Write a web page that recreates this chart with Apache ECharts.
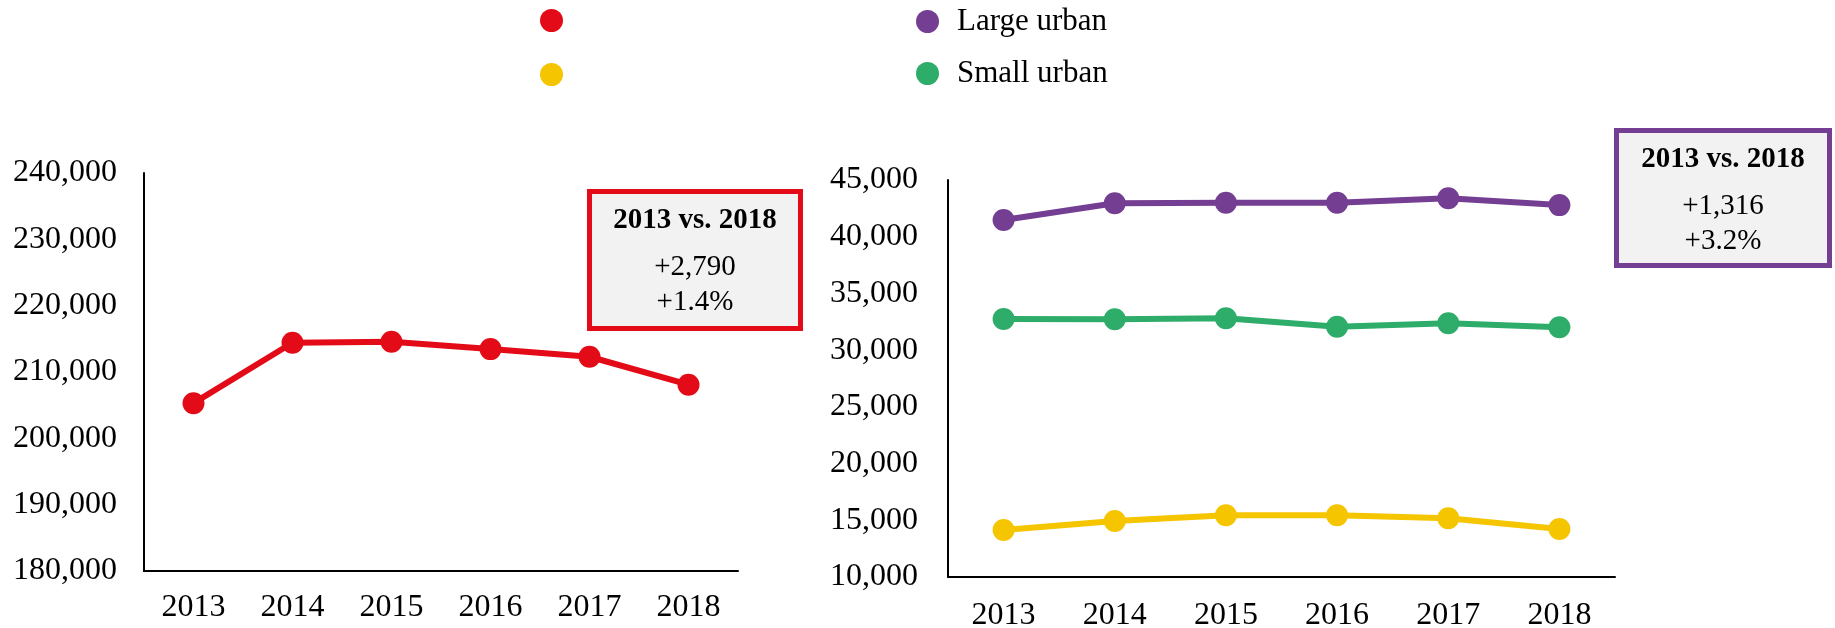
<!DOCTYPE html>
<html>
<head>
<meta charset="utf-8">
<script src="https://cdn.jsdelivr.net/npm/echarts@6.0.0/dist/echarts.min.js"></script>
<style>
html, body { margin: 0; padding: 0; background: #fff; }
#main { width: 1835px; height: 628px; }
</style>
</head>
<body>
<div id="main"></div>
<script>
// data
var years = ['2013', '2014', '2015', '2016', '2017', '2018'];
var totalVals = [205300, 214400, 214550, 213450, 212300, 208090];
var largeUrban = [41470, 42945, 42998, 42995, 43386, 42786];
var smallUrban = [32745, 32720, 32807, 32066, 32366, 32013];
var ruralVals = [14144, 14937, 15440, 15440, 15175, 14232];

var FONT = '"Liberation Serif", "Times New Roman", serif';
var RED = '#e30b17', PURPLE = '#743e92', GREEN = '#2eac69', YELLOW = '#f5c500';

// legend labels (the red and yellow ones show no text in the original)
var legendText = { 'Total': '', 'Rural': '', 'Large urban': 'Large urban', 'Small urban': 'Small urban' };

function diffText(arr) {
    var d = arr[arr.length - 1] - arr[0];
    var p = d / arr[0] * 100;
    return [(d >= 0 ? '+' : '') + d.toLocaleString('en-US'), (p >= 0 ? '+' : '') + p.toFixed(1) + '%'];
}

function mkLegend(name, left, top) {
    return {
        data: [name], left: left, top: top, orient: 'vertical',
        icon: 'circle', itemWidth: 23, itemHeight: 23,
        formatter: function (n) { return legendText[n]; },
        textStyle: { fontFamily: FONT, fontSize: 31, color: '#000', lineHeight: 22, padding: [0, 0, 0, 13] }
    };
}

function mkBox(x, y, w, h, color, arr) {
    var t = diffText(arr);
    var cx = x + w / 2;
    return [
        { type: 'rect', shape: { x: x, y: y, width: w, height: h },
          style: { fill: '#f2f2f2', stroke: color, lineWidth: 5 } },
        { type: 'text', x: cx, y: y + 29,
          style: { text: '2013 vs. 2018', font: 'bold 29px ' + FONT, fill: '#000', align: 'center', verticalAlign: 'middle' } },
        { type: 'text', x: cx, y: y + 76,
          style: { text: t[0], font: '29px ' + FONT, fill: '#000', align: 'center', verticalAlign: 'middle' } },
        { type: 'text', x: cx, y: y + 111,
          style: { text: t[1], font: '29px ' + FONT, fill: '#000', align: 'center', verticalAlign: 'middle' } }
    ];
}

var axisLabelStyle = { fontFamily: FONT, fontSize: 32, color: '#000' };
var axisLineStyle = { show: true, lineStyle: { color: '#000', width: 2 } };

function lineSeries(name, data, color, idx) {
    return {
        name: name, type: 'line', data: data, xAxisIndex: idx, yAxisIndex: idx,
        symbol: 'circle', symbolSize: 22,
        lineStyle: { color: color, width: 6 },
        itemStyle: { color: color },
        emphasis: { disabled: true }
    };
}

var myChart = echarts.init(document.getElementById('main'));
var option = {
    animation: false,
    textStyle: { fontFamily: FONT },
    legend: [
        mkLegend('Total', 535, 4),
        mkLegend('Rural', 535, 58),
        mkLegend('Large urban', 911, 1),
        mkLegend('Small urban', 911, 53)
    ],
    grid: [
        { left: 144, top: 173, width: 594, height: 398, outerBoundsMode: 'none' },
        { left: 948, top: 180, width: 667, height: 397, outerBoundsMode: 'none' }
    ],
    xAxis: [
        { type: 'category', data: years, gridIndex: 0, axisLine: axisLineStyle, axisTick: { show: false },
          axisLabel: Object.assign({ margin: 21 }, axisLabelStyle) },
        { type: 'category', data: years, gridIndex: 1, axisLine: axisLineStyle, axisTick: { show: false },
          axisLabel: Object.assign({ margin: 23 }, axisLabelStyle) }
    ],
    yAxis: [
        { type: 'value', gridIndex: 0, min: 180000, max: 240000, interval: 10000,
          axisLine: axisLineStyle, axisTick: { show: false }, splitLine: { show: false },
          axisLabel: Object.assign({ margin: 27, formatter: function (v) { return v.toLocaleString('en-US'); } }, axisLabelStyle) },
        { type: 'value', gridIndex: 1, min: 10000, max: 45000, interval: 5000,
          axisLine: axisLineStyle, axisTick: { show: false }, splitLine: { show: false },
          axisLabel: Object.assign({ margin: 30, formatter: function (v) { return v.toLocaleString('en-US'); } }, axisLabelStyle) }
    ],
    series: [
        lineSeries('Total', totalVals, RED, 0),
        lineSeries('Large urban', largeUrban, PURPLE, 1),
        lineSeries('Small urban', smallUrban, GREEN, 1),
        lineSeries('Rural', ruralVals, YELLOW, 1)
    ],
    graphic: mkBox(589.5, 191.5, 211, 137, RED, totalVals)
        .concat(mkBox(1616.5, 130.5, 213, 135, PURPLE, largeUrban))
};
myChart.setOption(option);
</script>
</body>
</html>
